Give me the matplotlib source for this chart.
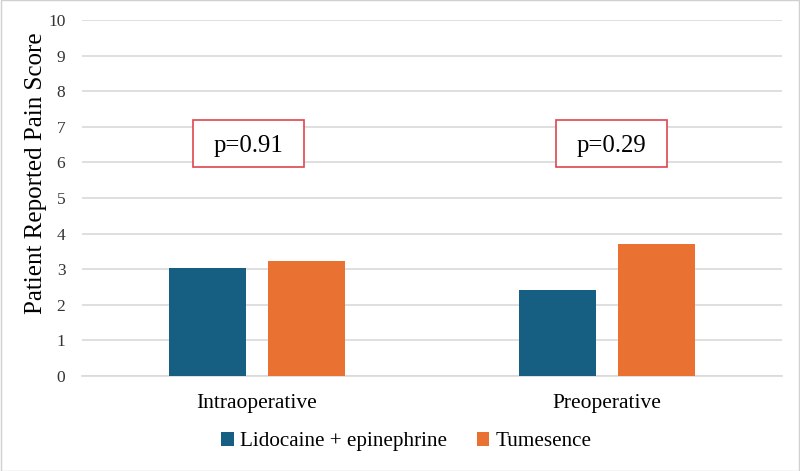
import numpy as np
import matplotlib.pyplot as plt
from matplotlib.patches import Rectangle

categories = ["Intraoperative", "Preoperative"]
lido = [3.03, 2.42]
tumes = [3.24, 3.71]
series_names = ["Lidocaine + epinephrine", "Tumesence"]
p_labels = ["p=0.91", "p=0.29"]

plt.rcParams['font.family'] = ['Liberation Serif', 'DejaVu Serif']

fig = plt.figure(figsize=(8, 4.71), dpi=100)
ax = fig.add_axes([0.1025, 0.2017, 0.875, 0.7558])

x = np.arange(len(categories))
w = 0.22
gap = 0.063
blue = "#175f82"
orange = "#e97132"

ax.bar(x - (w + gap) / 2, lido, w, color=blue, label=series_names[0], zorder=3)
ax.bar(x + (w + gap) / 2, tumes, w, color=orange, label=series_names[1], zorder=3)

ax.set_xlim(-0.5, 1.5)
ax.set_ylim(0, 10)
ax.set_yticks(range(0, 11))
ax.yaxis.grid(True, color="#d9d9d9", linewidth=1.2, zorder=0)
ax.set_xticks(x)
ax.set_xticklabels(categories, fontsize=15.5)
ax.tick_params(axis='x', length=0, pad=13)
ax.tick_params(axis='y', length=0, labelsize=12.5, pad=12, labelcolor="#333333")
for s in ["top", "right", "left"]:
    ax.spines[s].set_visible(False)
ax.spines["bottom"].set_color("#d9d9d9")
ax.spines["bottom"].set_linewidth(1.2)

ax.set_ylabel("Patient Reported Pain Score", fontsize=18)
ax.yaxis.set_label_coords(-0.05, 0.57)

# p-value boxes (axes-fraction x, data y)
box_x = [(0.1586, 0.3171), (0.677, 0.836)]
for (x0, x1), lab in zip(box_x, p_labels):
    ax.add_patch(Rectangle((x0, 5.87), x1 - x0, 1.32, transform=ax.get_yaxis_transform(),
                           facecolor="white", edgecolor="#e0454f", linewidth=1.2, zorder=5))
    ax.text((x0 + x1) / 2, 6.46, lab, fontsize=17.8, ha="center", va="center",
            transform=ax.get_yaxis_transform(), zorder=6)

leg = fig.legend(loc="center", bbox_to_anchor=(0.508, 0.062), ncol=2, frameon=False,
                 fontsize=15.2, handlelength=0.6, handleheight=0.6, handletextpad=0.3,
                 columnspacing=1.4)

fig.patches.append(Rectangle((0.001, 0.001), 0.998, 0.998, transform=fig.transFigure,
                             fill=False, edgecolor="#d0d0d0", linewidth=1))

fig.savefig("out.png", dpi=100)
